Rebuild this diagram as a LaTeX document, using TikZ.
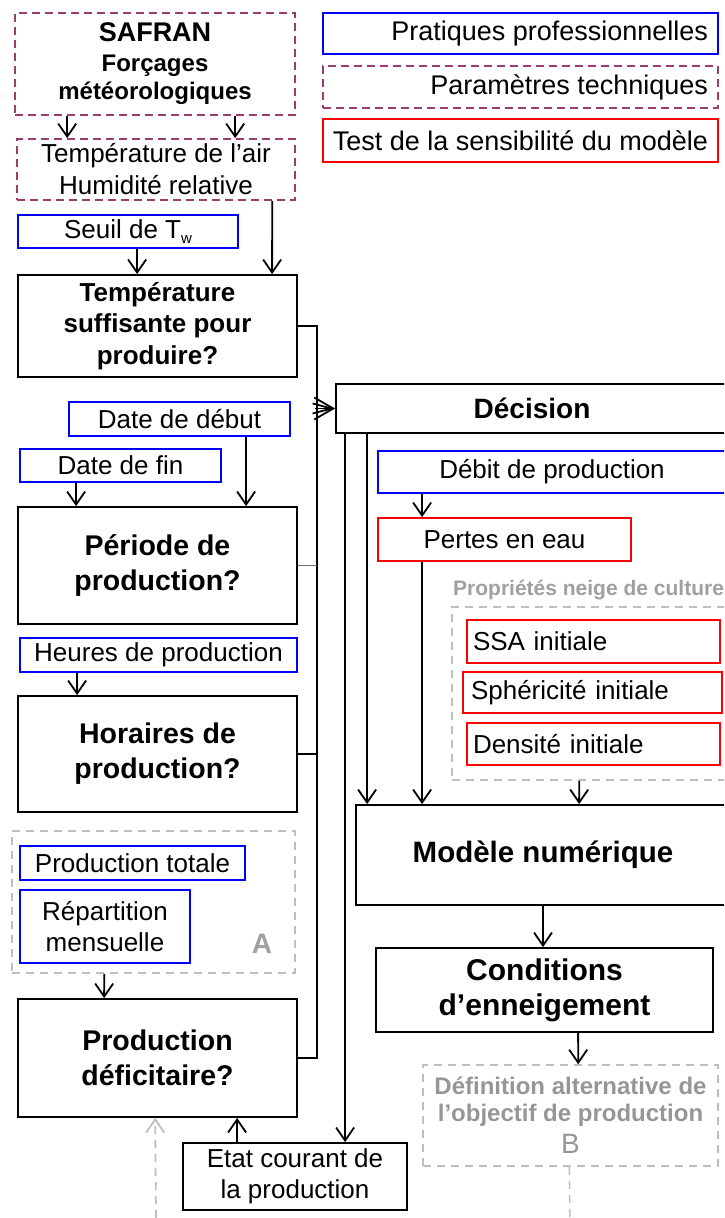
\documentclass[tikz,border=0pt]{standalone}
\usepackage{fontspec}
\setmainfont{Liberation Sans}
\usetikzlibrary{arrows.meta,calc}
\definecolor{pblue}{RGB}{0,0,255}
\definecolor{pred}{RGB}{255,0,0}
\definecolor{ppurple}{RGB}{153,60,110}
\definecolor{lgray}{RGB}{190,190,190}
\definecolor{tgray}{RGB}{150,150,150}
\definecolor{agray}{RGB}{160,160,160}
\definecolor{mgray}{RGB}{110,110,110}
\tikzset{
  base/.style={rectangle, inner sep=0pt, align=center, font=\fontsize{26}{32}\selectfont},
  blk/.style={base, draw=black, line width=1.8pt},
  blu/.style={base, draw=pblue, line width=1.8pt},
  rd/.style={base, draw=pred, line width=1.8pt},
  prp/.style={base, draw=ppurple, line width=1.6pt, dash pattern=on 8pt off 5pt},
  gry/.style={base, draw=lgray, line width=1.5pt, dash pattern=on 8pt off 6pt},
  bigbold/.style={font=\fontsize{28.5}{35}\selectfont\bfseries},
  legend/.style={minimum width=395, font=\fontsize{27}{32}\selectfont},
  conn/.style={line width=1.8pt, -{Straight Barb[length=13pt,width=18pt]}},
  gconn/.style={line width=1.8pt, draw=lgray, dash pattern=on 8pt off 6pt, -{Straight Barb[length=13pt,width=18pt]}},
  wire/.style={line width=1.8pt},
}
\newcommand{\legtext}[1]{\makebox[375pt][r]{#1}}
\begin{document}
\begin{tikzpicture}[x=1pt,y=-1pt]
\useasboundingbox (0,0) rectangle (724,1218);
\clip (0,0) rectangle (724,1218);
% legend
\node[blu, legend, minimum height=41] (leg1) at (520.5,33.5) {\legtext{Pratiques professionnelles}};
\node[prp, legend, minimum height=42] (leg2) at (520.5,87) {\legtext{Paramètres techniques}};
\node[rd, legend, minimum height=43] (leg3) at (520.5,140.5) {\legtext{Test de la sensibilité du modèle}};
% left column
\node[prp, minimum width=280, minimum height=102, font=\fontsize{24}{28}\selectfont\bfseries] (safran) at (155,64) {{\fontsize{27}{28}\selectfont SAFRAN}\\[2pt]Forçages\\météorologiques};
\node[prp, minimum width=278, minimum height=61] (tempair) at (156,169.5) {Température de l’air\\Humidité relative};
\node[blu, minimum width=220, minimum height=33] (seuil) at (128,231.5) {Seuil de T\raisebox{-5pt}{\fontsize{15}{15}\selectfont w}};
\node[blk, minimum width=279, minimum height=102, font=\fontsize{26}{31.5}\selectfont\bfseries] (tsuff) at (157.5,326) {Température\\suffisante pour\\produire?};
\node[blu, minimum width=221, minimum height=34] (ddebut) at (179.5,419) {Date de début};
\node[blu, minimum width=201, minimum height=33] (dfin) at (120.5,465.5) {Date de fin};
\node[blk, bigbold, minimum width=279, minimum height=117] (periode) at (157.5,565.5) {Période de\\production?};
\node[blu, minimum width=277, minimum height=34] (heures) at (158.5,655) {Heures de production};
\node[blk, bigbold, minimum width=279, minimum height=116] (horaires) at (157.5,754) {Horaires de\\production?};
\node[gry, minimum width=283, minimum height=142] (boxA) at (153.5,902) {};
\node[font=\fontsize{28}{28}\selectfont\bfseries, text=agray, inner sep=0pt] (labA) at (262,944) {A};
\node[blu, minimum width=225, minimum height=34] (prodtot) at (132.5,863) {Production totale};
\node[blu, minimum width=170, minimum height=73, font=\fontsize{26}{31}\selectfont] (repart) at (105,926.5) {Répartition\\mensuelle};
\node[blk, bigbold, minimum width=279, minimum height=118] (proddef) at (157.5,1058) {Production\\déficitaire?};
\node[blk, minimum width=224, minimum height=67, font=\fontsize{26}{31}\selectfont] (etat) at (295,1176.5) {Etat courant de\\la production};
% right column
\node[blk, minimum width=392, minimum height=49, font=\fontsize{28}{30}\selectfont\bfseries] (decision) at (532,408.5) {Décision};
\node[blu, minimum width=348, minimum height=42] (debit) at (552,472) {Débit de production};
\node[rd, minimum width=253, minimum height=43] (pertes) at (504.5,539.5) {Pertes en eau};
\node[anchor=west, inner sep=0pt, text=agray, font=\fontsize{21}{22}\selectfont\bfseries] (proplab) at (453,590) {Propriétés neige de culture};
\node[gry, minimum width=288, minimum height=173] (propbox) at (596,693.5) {};
\node[rd, minimum width=253, minimum height=43, text width=241, align=left, inner xsep=6pt] (ssa) at (593.5,641.5) {SSA initiale};
\node[rd, minimum width=255, minimum height=41, text width=243, align=left, inner xsep=8pt] (spher) at (592.5,692.5) {Sphéricité initiale};
\node[rd, minimum width=253, minimum height=42, text width=241, align=left, inner xsep=6pt] (dens) at (593.5,744) {Densité initiale};
\node[blk, minimum width=374, minimum height=100, font=\fontsize{29.5}{32}\selectfont\bfseries] (modele) at (543,855) {Modèle numérique};
\node[blk, minimum width=337, minimum height=84, font=\fontsize{30}{35}\selectfont\bfseries] (cond) at (544.5,990) {Conditions\\d’enneigement};
\node[gry, minimum width=295, minimum height=101, text=tgray, font=\fontsize{24}{27}\selectfont\bfseries] (defB) at (570.5,1115.5) {Définition alternative de\\l’objectif de production\\[5pt]{\mdseries\fontsize{28}{30}\selectfont B}};
\coordinate (bot1) at (156,1218);
\coordinate (bot2) at (570,1218);
% connectors
\draw[conn] ([xshift=53]safran.south west) -- ([xshift=51]tempair.north west);
\draw[conn] ([xshift=221]safran.south west) -- ([xshift=219]tempair.north west);
\draw[conn] ([xshift=256]tempair.south west) -- ([xshift=255]tsuff.north west);
\draw[conn] ([xshift=120]seuil.south west) -- ([xshift=120]tsuff.north west);
\draw[conn] ([xshift=178]ddebut.south west) -- ([xshift=229]periode.north west);
\draw[conn] ([xshift=57]dfin.south west) -- ([xshift=59]periode.north west);
\draw[conn] ([xshift=58]heures.south west) -- ([xshift=60]horaires.north west);
\draw[conn] ([xshift=93]boxA.south west) -- ([xshift=87]proddef.north west);
\draw[wire] (tsuff.east) -- ++(19,0) |- (proddef.east);
\draw[wire, draw=mgray] (periode.east) -- ++(19,0);
\draw[wire] (horaires.east) -- ++(19,0);
\draw[line width=1.8pt, -{Straight Barb[length=19pt,width=22pt]}] ([xshift=-20]decision.west) -- (decision.west);
\draw[line width=1.8pt, -{Straight Barb[length=19pt,width=10pt]}] ([xshift=-20]decision.west) -- (decision.west);
\draw[conn] ([xshift=45]debit.south west) -- ([xshift=45]pertes.north west);
\draw[conn] ([xshift=45]pertes.south west) -- ([xshift=67]modele.north west);
\draw[conn] ([xshift=128]propbox.south west) -- ([xshift=224]modele.north west);
\draw[conn] ([xshift=32]decision.south west) -- ([xshift=12]modele.north west);
\draw[conn] ([xshift=10]decision.south west) -- ([xshift=163]etat.north west);
\draw[conn] (modele.south) -- (modele.south |- cond.north);
\draw[conn] ([xshift=203]cond.south west) -- ([xshift=156]defB.north west);
\draw[conn] ([xshift=55]etat.north west) -- ([xshift=220]proddef.south west);
\draw[gconn] (bot1) -- ([xshift=138]proddef.south west);
\draw[line width=1.5pt, draw=lgray, dash pattern=on 8pt off 6pt] ([xshift=147]defB.south west) -- (bot2);
\end{tikzpicture}
\end{document}
